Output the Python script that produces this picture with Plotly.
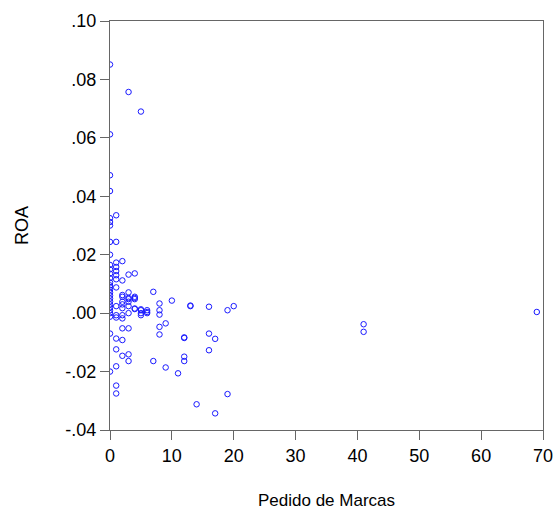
import plotly.graph_objects as go

# Pedido de Marcas (x) and ROA (y), grouped by x value
pedido_marcas = (
    [0] * 28
    + [1] * 16
    + [2] * 12
    + [3] * 11
    + [4] * 6
    + [5] * 5
    + [6] * 3
    + [7] * 2
    + [8] * 5
    + [9] * 2
    + [10]
    + [11]
    + [12] * 4
    + [13] * 2
    + [14]
    + [16] * 3
    + [17] * 2
    + [19] * 2
    + [20]
    + [41] * 2
    + [69]
)

roa = (
    # x = 0
    [0.0851, 0.0612, 0.0472, 0.0418, 0.0325, 0.0312, 0.0300, 0.0244,
     0.0200, 0.0165, 0.0150, 0.0135, 0.0120, 0.0105, 0.0095, 0.0089,
     0.0080, 0.0070, 0.0060, 0.0050, 0.0040, 0.0030, 0.0020, 0.0010,
     0.0000, -0.0012, -0.0070, -0.0200]
    # x = 1
    + [0.0335, 0.0244, 0.0173, 0.0158, 0.0144, 0.0130, 0.0116, 0.0088,
       0.0024, -0.0007, -0.0015, -0.0087, -0.0124, -0.0182, -0.0248, -0.0275]
    # x = 2
    + [0.0178, 0.0112, 0.0062, 0.0056, 0.0039, 0.0030, 0.0017, -0.0007,
       -0.0018, -0.0052, -0.0092, -0.0146]
    # x = 3
    + [0.0757, 0.0132, 0.0071, 0.0052, 0.0048, 0.0039, 0.0024, 0.0000,
       -0.0052, -0.0141, -0.0164]
    # x = 4
    + [0.0136, 0.0056, 0.0052, 0.0048, 0.0016, 0.0014]
    # x = 5
    + [0.0690, 0.0013, 0.0010, 0.0000, -0.0007]
    # x = 6
    + [0.0010, 0.0004, 0.0000]
    # x = 7
    + [0.0073, -0.0164]
    # x = 8
    + [0.0033, 0.0010, -0.0005, -0.0047, -0.0073]
    # x = 9
    + [-0.0035, -0.0186]
    # x = 10
    + [0.0043]
    # x = 11
    + [-0.0206]
    # x = 12
    + [-0.0083, -0.0085, -0.0149, -0.0164]
    # x = 13
    + [0.0026, 0.0024]
    # x = 14
    + [-0.0312]
    # x = 16
    + [0.0022, -0.0070, -0.0127]
    # x = 17
    + [-0.0088, -0.0343]
    # x = 19
    + [0.0010, -0.0277]
    # x = 20
    + [0.0024]
    # x = 41
    + [-0.0038, -0.0064]
    # x = 69
    + [0.0004]
)

x_ticks = [0, 10, 20, 30, 40, 50, 60, 70]
y_ticks = [-0.04, -0.02, 0.00, 0.02, 0.04, 0.06, 0.08, 0.10]
y_tick_labels = ["-.04", "-.02", ".00", ".02", ".04", ".06", ".08", ".10"]

fig = go.Figure(
    go.Scatter(
        x=pedido_marcas,
        y=roa,
        mode="markers",
        marker=dict(symbol="circle-open", size=5.5, color="#1a1aff",
                    line=dict(width=1, color="#1a1aff")),
        showlegend=False,
    )
)

axis_color = "#666666"
font_family = "Liberation Sans, Arial, sans-serif"

fig.update_layout(
    width=555,
    height=510,
    margin=dict(l=110, r=12, t=21, b=80),
    paper_bgcolor="white",
    plot_bgcolor="white",
    font=dict(family=font_family, size=18, color="#000000"),
    xaxis=dict(
        range=[0, 70],
        tickvals=x_ticks,
        ticks="outside",
        ticklen=9,
        tickcolor=axis_color,
        tickwidth=1,
        showline=True,
        linecolor=axis_color,
        linewidth=1,
        mirror=True,
        showgrid=False,
        zeroline=False,
        automargin=False,
        tickfont=dict(size=18),
        title=dict(text="Pedido de Marcas", font=dict(size=17), standoff=34),
    ),
    yaxis=dict(
        range=[-0.04, 0.10],
        tickvals=y_ticks,
        ticktext=y_tick_labels,
        ticks="outside",
        ticklen=9,
        tickcolor=axis_color,
        tickwidth=1,
        showline=True,
        linecolor=axis_color,
        linewidth=1,
        mirror=True,
        showgrid=False,
        zeroline=False,
        automargin=False,
        tickfont=dict(size=18),
        title=dict(text="ROA", font=dict(size=18), standoff=32),
    ),
)

fig.write_html("out.html")
